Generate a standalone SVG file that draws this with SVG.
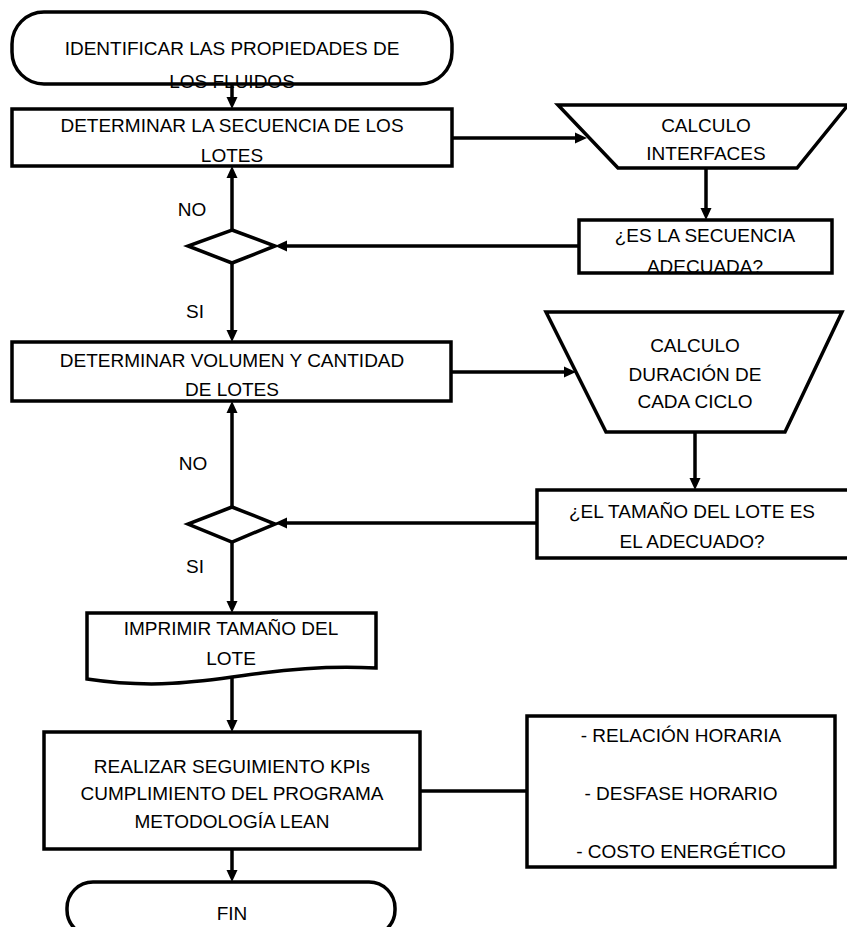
<svg xmlns="http://www.w3.org/2000/svg" width="847" height="927" viewBox="0 0 847 927">
<style>
.s{fill:#fff;stroke:#000;stroke-width:3.5;stroke-linejoin:miter}
.t{font-family:"Liberation Sans",Arial,sans-serif;font-size:19px;fill:#000;text-anchor:middle}
.c{fill:none;stroke:#000;stroke-width:3.5}
.a{marker-end:url(#ah)}
</style>
<defs>
<marker id="ah" viewBox="0 0 12 12" refX="6" refY="6" markerWidth="12" markerHeight="12" markerUnits="userSpaceOnUse" orient="auto">
<path d="M0,0.5 L12,6 L0,11.5 z" fill="#000"/>
</marker>
</defs>
<rect width="847" height="927" fill="#fff"/>
<g id="connectors">
<path class="c a" d="M232,84 V103"/>
<path class="c a" d="M452,138 H581"/>
<path class="c a" d="M706,168 V214"/>
<path class="c a" d="M579,246 H281"/>
<path class="c a" d="M232,230 V172"/>
<path class="c a" d="M232,263 V336"/>
<path class="c a" d="M451,372 H570"/>
<path class="c a" d="M695,432 V484"/>
<path class="c a" d="M537,523 H281"/>
<path class="c a" d="M232,507 V407"/>
<path class="c a" d="M232,542 V607"/>
<path class="c a" d="M232,677 V726"/>
<path class="c" d="M420,791 H527"/>
<path class="c a" d="M232,849 V876"/>
</g>
<g id="inicio">
<rect class="s" x="12" y="12" width="440" height="72" rx="32" ry="32"/>
<text class="t" x="232" y="55">IDENTIFICAR LAS PROPIEDADES DE</text>
<text class="t" x="232" y="88">LOS FLUIDOS</text>
</g>
<g id="secuencia">
<rect class="s" x="12" y="109" width="440" height="57"/>
<text class="t" x="232" y="132">DETERMINAR LA SECUENCIA DE LOS</text>
<text class="t" x="232" y="162">LOTES</text>
</g>
<g id="interfaces">
<polygon class="s" points="558,105 848,105 797,168 618,168"/>
<text class="t" x="706" y="132">CALCULO</text>
<text class="t" x="706" y="160">INTERFACES</text>
</g>
<g id="pregunta-secuencia">
<rect class="s" x="579" y="220" width="253" height="53"/>
<text class="t" x="705" y="242">¿ES LA SECUENCIA</text>
<text class="t" x="705" y="273">ADECUADA?</text>
</g>
<g id="decision1">
<polygon class="s" points="232,230 275,246 232,263 188,246"/>
<text class="t" x="192" y="216">NO</text>
<text class="t" x="195" y="318">SI</text>
</g>
<g id="volumen">
<rect class="s" x="12" y="342" width="439" height="59"/>
<text class="t" x="232" y="367">DETERMINAR VOLUMEN Y CANTIDAD</text>
<text class="t" x="232" y="396">DE LOTES</text>
</g>
<g id="duracion">
<polygon class="s" points="546,312 842,312 785,432 606,432"/>
<text class="t" x="695" y="352">CALCULO</text>
<text class="t" x="695" y="381">DURACIÓN DE</text>
<text class="t" x="695" y="408">CADA CICLO</text>
</g>
<g id="pregunta-tamano">
<rect class="s" x="537" y="490" width="315" height="68"/>
<text class="t" x="692" y="518">¿EL TAMAÑO DEL LOTE ES</text>
<text class="t" x="692" y="548">EL ADECUADO?</text>
</g>
<g id="decision2">
<polygon class="s" points="232,507 275,524 232,542 188,524"/>
<text class="t" x="193" y="470">NO</text>
<text class="t" x="195" y="573">SI</text>
</g>
<g id="imprimir">
<path class="s" d="M87,613 H376 V668 C340,666 300,668 262,673 C210,680 160,690 87,679 Z"/>
<text class="t" x="231" y="635">IMPRIMIR TAMAÑO DEL</text>
<text class="t" x="231" y="665">LOTE</text>
</g>
<g id="seguimiento">
<rect class="s" x="44" y="732" width="376" height="117"/>
<text class="t" x="232" y="773">REALIZAR SEGUIMIENTO KPIs</text>
<text class="t" x="232" y="800">CUMPLIMIENTO DEL PROGRAMA</text>
<text class="t" x="232" y="828">METODOLOGÍA LEAN</text>
</g>
<g id="indicadores">
<rect class="s" x="527" y="716" width="308" height="151"/>
<text class="t" x="681" y="742">- RELACIÓN HORARIA</text>
<text class="t" x="681" y="800">- DESFASE HORARIO</text>
<text class="t" x="681" y="858">- COSTO ENERGÉTICO</text>
</g>
<g id="fin">
<rect class="s" x="67" y="882" width="328" height="54" rx="26" ry="26"/>
<text class="t" x="232" y="920">FIN</text>
</g>
</svg>
